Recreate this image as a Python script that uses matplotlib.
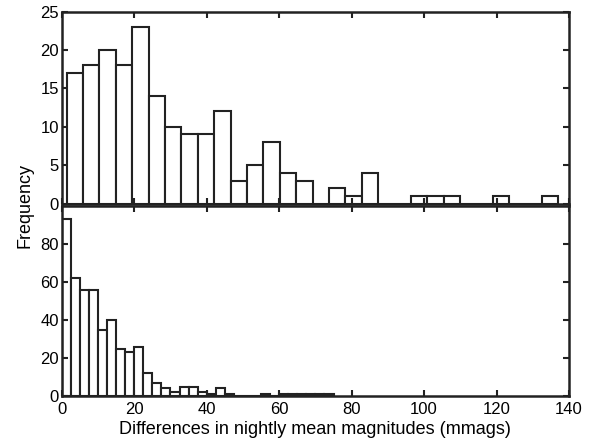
import matplotlib
matplotlib.use("Agg")
import matplotlib.pyplot as plt
import numpy as np

plt.rcParams['font.family'] = ['Liberation Sans', 'DejaVu Sans']

# top panel: 30 bins between first and last value
top_lo, top_hi = 1.35, 137.1
top_counts = [17, 18, 20, 18, 23, 14, 10, 9, 9, 12,
              3, 5, 8, 4, 3, 0, 2, 1, 4, 0,
              0, 1, 1, 1, 0, 0, 1, 0, 0, 1]

# bottom panel: 30 bins from 0 to 75
bot_lo, bot_hi = 0.0, 75.0
bot_counts = [93, 62, 56, 56, 35, 40, 25, 23, 26, 12,
              7, 4, 2, 5, 5, 2, 1, 4, 1, 0,
              0, 0, 1, 0, 1, 1, 1, 1, 1, 1]

xticks = [0, 20, 40, 60, 80, 100, 120, 140]
top_yticks = [0, 5, 10, 15, 20, 25]
bot_yticks = [0, 20, 40, 60, 80]


def draw_hist(ax, lo, hi, counts):
    edges = np.linspace(lo, hi, len(counts) + 1)
    ax.bar(edges[:-1], counts, width=np.diff(edges), align='edge',
           facecolor='white', edgecolor='#222222', linewidth=1.5)


def style(ax):
    for s in ax.spines.values():
        s.set_linewidth(1.8)
        s.set_color('#222222')
    ax.tick_params(direction='in', top=True, right=True, length=4,
                   width=1.5, labelsize=12, color='#222222', pad=2)
    ax.tick_params(axis='x', pad=4)


fig = plt.figure(figsize=(5.93, 4.41), dpi=100)
ax1 = fig.add_axes([0.1042, 0.5385, 0.8553, 0.4349])
ax2 = fig.add_axes([0.1042, 0.102, 0.8553, 0.4308])

draw_hist(ax1, top_lo, top_hi, top_counts)
ax1.set_xlim(0, 140)
ax1.set_ylim(0, 25)
ax1.set_xticks(xticks)
ax1.set_xticklabels([])
ax1.set_yticks(top_yticks)
style(ax1)

draw_hist(ax2, bot_lo, bot_hi, bot_counts)
ax2.set_xlim(0, 140)
ax2.set_ylim(0, 100)
ax2.set_xticks(xticks)
ax2.set_yticks(bot_yticks)
style(ax2)
ax2.set_xlabel('Differences in nightly mean magnitudes (mmags)',
               fontsize=13, labelpad=3)

fig.text(0.042, 0.535, 'Frequency', rotation=90, fontsize=13,
         ha='center', va='center')

fig.savefig('out.png', dpi=100)
